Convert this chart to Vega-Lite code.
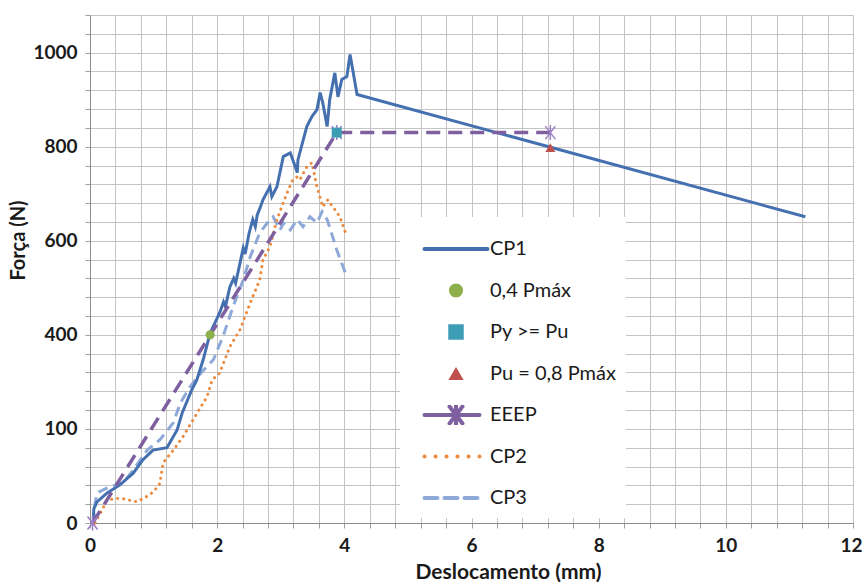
{
  "$schema": "https://vega.github.io/schema/vega-lite/v6.json",
  "width": 763,
  "height": 508,
  "autosize": "none",
  "padding": {"left": 90, "top": 15, "right": 9, "bottom": 60},
  "background": "white",
  "config": {"view": {"stroke": null}, "font": "Lato"},
  "data": {"values": [
    {"s": "CP1", "x": 0.05, "y": 0}, {"s": "CP1", "x": 0.06, "y": 30}, {"s": "CP1", "x": 0.11, "y": 45}, {"s": "CP1", "x": 0.27, "y": 64},
    {"s": "CP1", "x": 0.47, "y": 81}, {"s": "CP1", "x": 0.68, "y": 106}, {"s": "CP1", "x": 0.83, "y": 134}, {"s": "CP1", "x": 0.99, "y": 155},
    {"s": "CP1", "x": 1.21, "y": 160}, {"s": "CP1", "x": 1.37, "y": 198}, {"s": "CP1", "x": 1.45, "y": 234}, {"s": "CP1", "x": 1.60, "y": 283},
    {"s": "CP1", "x": 1.68, "y": 304}, {"s": "CP1", "x": 1.78, "y": 347}, {"s": "CP1", "x": 1.89, "y": 404}, {"s": "CP1", "x": 2.04, "y": 447},
    {"s": "CP1", "x": 2.10, "y": 470}, {"s": "CP1", "x": 2.13, "y": 460}, {"s": "CP1", "x": 2.20, "y": 502}, {"s": "CP1", "x": 2.26, "y": 520},
    {"s": "CP1", "x": 2.29, "y": 510}, {"s": "CP1", "x": 2.36, "y": 553}, {"s": "CP1", "x": 2.41, "y": 585}, {"s": "CP1", "x": 2.44, "y": 572},
    {"s": "CP1", "x": 2.50, "y": 615}, {"s": "CP1", "x": 2.56, "y": 645}, {"s": "CP1", "x": 2.60, "y": 630}, {"s": "CP1", "x": 2.63, "y": 655},
    {"s": "CP1", "x": 2.68, "y": 672}, {"s": "CP1", "x": 2.72, "y": 687}, {"s": "CP1", "x": 2.83, "y": 715}, {"s": "CP1", "x": 2.86, "y": 694},
    {"s": "CP1", "x": 2.94, "y": 715}, {"s": "CP1", "x": 3.04, "y": 779}, {"s": "CP1", "x": 3.15, "y": 787}, {"s": "CP1", "x": 3.26, "y": 745},
    {"s": "CP1", "x": 3.27, "y": 772}, {"s": "CP1", "x": 3.41, "y": 843}, {"s": "CP1", "x": 3.49, "y": 864}, {"s": "CP1", "x": 3.57, "y": 879},
    {"s": "CP1", "x": 3.62, "y": 915}, {"s": "CP1", "x": 3.66, "y": 894}, {"s": "CP1", "x": 3.73, "y": 843}, {"s": "CP1", "x": 3.77, "y": 900},
    {"s": "CP1", "x": 3.85, "y": 957}, {"s": "CP1", "x": 3.90, "y": 906}, {"s": "CP1", "x": 3.96, "y": 943}, {"s": "CP1", "x": 4.04, "y": 949},
    {"s": "CP1", "x": 4.09, "y": 996}, {"s": "CP1", "x": 4.20, "y": 911}, {"s": "CP1", "x": 11.25, "y": 651},
    {"s": "CP2", "x": 0.08, "y": 0}, {"s": "CP2", "x": 0.13, "y": 13}, {"s": "CP2", "x": 0.19, "y": 28}, {"s": "CP2", "x": 0.27, "y": 49},
    {"s": "CP2", "x": 0.47, "y": 53}, {"s": "CP2", "x": 0.74, "y": 45}, {"s": "CP2", "x": 0.94, "y": 60}, {"s": "CP2", "x": 1.07, "y": 77},
    {"s": "CP2", "x": 1.10, "y": 85}, {"s": "CP2", "x": 1.15, "y": 128}, {"s": "CP2", "x": 1.31, "y": 155}, {"s": "CP2", "x": 1.46, "y": 183},
    {"s": "CP2", "x": 1.62, "y": 219}, {"s": "CP2", "x": 1.78, "y": 255}, {"s": "CP2", "x": 1.84, "y": 268}, {"s": "CP2", "x": 1.92, "y": 304},
    {"s": "CP2", "x": 2.04, "y": 319}, {"s": "CP2", "x": 2.20, "y": 375}, {"s": "CP2", "x": 2.36, "y": 411}, {"s": "CP2", "x": 2.52, "y": 468},
    {"s": "CP2", "x": 2.67, "y": 517}, {"s": "CP2", "x": 2.72, "y": 560}, {"s": "CP2", "x": 2.83, "y": 587}, {"s": "CP2", "x": 2.94, "y": 645},
    {"s": "CP2", "x": 3.10, "y": 702}, {"s": "CP2", "x": 3.19, "y": 730}, {"s": "CP2", "x": 3.26, "y": 736}, {"s": "CP2", "x": 3.30, "y": 730},
    {"s": "CP2", "x": 3.41, "y": 757}, {"s": "CP2", "x": 3.49, "y": 766}, {"s": "CP2", "x": 3.57, "y": 715}, {"s": "CP2", "x": 3.66, "y": 672},
    {"s": "CP2", "x": 3.74, "y": 687}, {"s": "CP2", "x": 3.82, "y": 672}, {"s": "CP2", "x": 3.93, "y": 651}, {"s": "CP2", "x": 4.04, "y": 609},
    {"s": "CP3", "x": 0.05, "y": 0}, {"s": "CP3", "x": 0.08, "y": 42}, {"s": "CP3", "x": 0.11, "y": 64}, {"s": "CP3", "x": 0.31, "y": 77},
    {"s": "CP3", "x": 0.52, "y": 85}, {"s": "CP3", "x": 0.68, "y": 113}, {"s": "CP3", "x": 0.90, "y": 155}, {"s": "CP3", "x": 1.10, "y": 177},
    {"s": "CP3", "x": 1.31, "y": 213}, {"s": "CP3", "x": 1.42, "y": 255}, {"s": "CP3", "x": 1.57, "y": 289}, {"s": "CP3", "x": 1.75, "y": 320},
    {"s": "CP3", "x": 1.94, "y": 347}, {"s": "CP3", "x": 2.09, "y": 396}, {"s": "CP3", "x": 2.25, "y": 460}, {"s": "CP3", "x": 2.41, "y": 517},
    {"s": "CP3", "x": 2.52, "y": 566}, {"s": "CP3", "x": 2.67, "y": 617}, {"s": "CP3", "x": 2.83, "y": 645}, {"s": "CP3", "x": 2.88, "y": 651},
    {"s": "CP3", "x": 2.99, "y": 623}, {"s": "CP3", "x": 3.04, "y": 638}, {"s": "CP3", "x": 3.15, "y": 623}, {"s": "CP3", "x": 3.26, "y": 645},
    {"s": "CP3", "x": 3.35, "y": 630}, {"s": "CP3", "x": 3.46, "y": 651}, {"s": "CP3", "x": 3.57, "y": 638}, {"s": "CP3", "x": 3.65, "y": 662},
    {"s": "CP3", "x": 3.73, "y": 645}, {"s": "CP3", "x": 3.88, "y": 581}, {"s": "CP3", "x": 4.04, "y": 523},
    {"s": "EEEP", "x": 0.04, "y": 0}, {"s": "EEEP", "x": 3.88, "y": 830}, {"s": "EEEP", "x": 7.24, "y": 830},
    {"s": "0,4 Pmáx", "x": 1.89, "y": 400},
    {"s": "Py >= Pu", "x": 3.88, "y": 830},
    {"s": "Pu = 0,8 Pmáx", "x": 7.24, "y": 798}
  ]},
  "encoding": {
    "x": {
      "field": "x", "type": "quantitative",
      "scale": {"domain": [0, 12], "nice": false, "zero": false},
      "axis": {
        "values": [0,0.4,0.8,1.2,1.6,2,2.4,2.8,3.2,3.6,4,4.4,4.8,5.2,5.6,6,6.4,6.8,7.2,7.6,8,8.4,8.8,9.2,9.6,10,10.4,10.8,11.2,11.6,12],
        "labelExpr": "abs(datum.value/2 - round(datum.value/2)) < 0.001 ? format(datum.value, 'd') : ''",
        "labelOverlap": false, "labelFlush": false,
        "labelOffset": {"condition": {"test": "datum.value === 12", "value": -2}, "value": 0},
        "grid": true, "gridColor": "#c4c4c4", "gridWidth": 1,
        "domainColor": "#8c8c8c", "tickColor": "#a0a0a0", "tickSize": 5,
        "labelFont": "Lato", "labelFontWeight": "bold", "labelFontSize": 19, "labelColor": "#1a1a1a", "labelPadding": 8,
        "title": "Deslocamento (mm)", "titleFont": "Lato", "titleFontSize": 21, "titleFontWeight": "bold", "titleColor": "#1a1a1a",
        "titleX": 418, "titleY": 55, "titleBaseline": "alphabetic", "titleAlign": "center"
      }
    },
    "y": {
      "field": "y", "type": "quantitative",
      "scale": {"domain": [0, 1080], "nice": false, "zero": false},
      "axis": {
        "values": [0,40,80,120,160,200,240,280,320,360,400,440,480,520,560,600,640,680,720,760,800,840,880,920,960,1000,1040,1080],
        "labelExpr": "datum.value % 200 === 0 ? (datum.value === 200 ? '100' : format(datum.value, 'd')) : ''",
        "labelOverlap": false, "labelFlush": false,
        "grid": true, "gridColor": "#c4c4c4", "gridWidth": 1,
        "domainColor": "#8c8c8c", "tickColor": "#a0a0a0", "tickSize": 5,
        "labelFont": "Lato", "labelFontWeight": "bold", "labelFontSize": 19, "labelColor": "#1a1a1a", "labelPadding": 8,
        "title": "Força (N)", "titleFont": "Lato", "titleFontSize": 20, "titleFontWeight": "bold", "titleColor": "#1a1a1a",
        "titleX": -72, "titleY": 225, "titleAngle": -90, "titleAlign": "center", "titleBaseline": "middle"
      }
    }
  },
  "layer": [
    {
      "transform": [{"filter": "datum.s === 'CP3'"}],
      "mark": {"type": "line", "strokeWidth": 3, "strokeDash": [10, 6]},
      "encoding": {
        "color": {
          "field": "s", "type": "nominal",
          "scale": {
            "domain": ["CP1", "0,4 Pmáx", "Py >= Pu", "Pu = 0,8 Pmáx", "EEEP", "CP2", "CP3"],
            "range": ["#4470b0", "#8db04a", "#3d9db5", "#c0504d", "#7e5fa0", "#ec8a3e", "#8ea9d8"]
          },
          "legend": {
            "orient": "none", "legendX": 310, "legendY": 202,
            "title": " ", "titleFontSize": 8, "titlePadding": 4,
            "fillColor": "white", "strokeColor": null, "padding": 10,
            "symbolSize": 100, "clipHeight": 20, "rowPadding": 21.5,
            "symbolOffset": 36, "labelOffset": 24,
            "labelFont": "Lato", "labelFontSize": 20, "labelColor": "#1a1a1a", "labelLimit": 300,
            "encode": {
              "symbols": {
                "update": {
                  "shape": {"signal": "datum.value === 'CP1' ? 'M-6.3,0L6.3,0' : datum.value === 'EEEP' ? 'M-6.3,0L4.7,0M-1.3,-1.7L1.3,1.7M-1.3,1.7L1.3,-1.7M0,-1.9L0,1.9' : (datum.value === 'CP2' || datum.value === 'CP3') ? 'M-6.3,0L4.7,0' : datum.value === '0,4 Pmáx' ? 'circle' : datum.value === 'Py >= Pu' ? 'square' : 'triangle-up'"},
                  "size": {"signal": "datum.value === '0,4 Pmáx' ? 200 : datum.value === 'Py >= Pu' ? 240 : datum.value === 'Pu = 0,8 Pmáx' ? 230 : 100"},
                  "fill": {"signal": "indexof(['CP1','CP2','CP3','EEEP'], datum.value) >= 0 ? 'transparent' : scale('color', datum.value)"},
                  "stroke": {"signal": "scale('color', datum.value)"},
                  "strokeWidth": {"signal": "indexof(['CP1','CP2','CP3','EEEP'], datum.value) >= 0 ? 4 : 0"},
                  "strokeDash": {"signal": "datum.value === 'CP2' ? [0.1, 10.9] : datum.value === 'CP3' ? [13, 7] : [1, 0]"},
                  "strokeCap": {"value": "round"},
                  "opacity": {"value": 1}
                }
              }
            }
          }
        }
      }
    },
    {
      "transform": [{"filter": "datum.s === 'CP2'"}],
      "mark": {"type": "line", "strokeWidth": 3, "strokeDash": [0.1, 6], "strokeCap": "round"},
      "encoding": {"color": {"field": "s", "type": "nominal"}}
    },
    {
      "transform": [{"filter": "datum.s === 'CP1'"}],
      "mark": {"type": "line", "strokeWidth": 3},
      "encoding": {"color": {"field": "s", "type": "nominal"}}
    },
    {
      "transform": [{"filter": "datum.s === 'EEEP'"}],
      "mark": {"type": "line", "strokeWidth": 3.5, "strokeDash": [14, 8]},
      "encoding": {"color": {"field": "s", "type": "nominal"}}
    },
    {
      "transform": [{"filter": "datum.s === 'EEEP'"}],
      "mark": {"type": "point", "shape": "M-1,-1.3L1,1.3M-1,1.3L1,-1.3M0,-1.5L0,1.5", "filled": false, "stroke": "#9b7fc4", "strokeWidth": 1.5, "size": 100, "opacity": 1}
    },
    {
      "transform": [{"filter": "datum.s === '0,4 Pmáx'"}],
      "mark": {"type": "point", "shape": "circle", "filled": true, "size": 85, "opacity": 1},
      "encoding": {"color": {"field": "s", "type": "nominal"}}
    },
    {
      "transform": [{"filter": "datum.s === 'Py >= Pu'"}],
      "mark": {"type": "point", "shape": "square", "filled": true, "size": 100, "opacity": 1},
      "encoding": {"color": {"field": "s", "type": "nominal"}}
    },
    {
      "transform": [{"filter": "datum.s === 'Pu = 0,8 Pmáx'"}],
      "mark": {"type": "point", "shape": "triangle-up", "filled": true, "size": 100, "opacity": 1},
      "encoding": {"color": {"field": "s", "type": "nominal"}}
    }
  ]
}
